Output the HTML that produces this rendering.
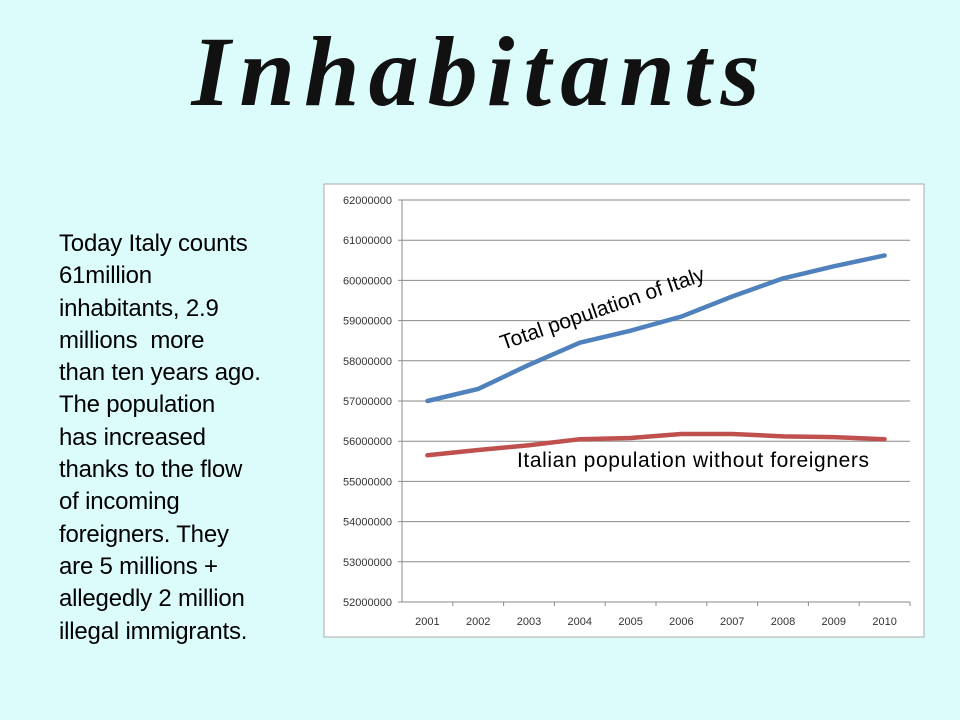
<!DOCTYPE html>
<html><head><meta charset="utf-8"><style>
body{margin:0;width:960px;height:720px;background:#dcfcfc;overflow:hidden;position:relative;font-family:"Liberation Sans",sans-serif}
#title{position:absolute;left:0;width:960px;top:14px;text-align:center;font-family:"Liberation Serif",serif;font-style:italic;font-weight:bold;font-size:100px;letter-spacing:9px;color:#111}
#body{position:absolute;left:59px;top:228px;width:260px;font-size:24px;letter-spacing:-0.2px;line-height:32.3px;color:#000;white-space:nowrap}
svg{position:absolute;left:0;top:0}
</style></head><body>
<div id="title">Inhabitants</div>
<div id="body">Today Italy counts<br>61million<br>inhabitants, 2.9<br>millions&nbsp; more<br>than ten years ago.<br>The population<br>has increased<br>thanks to the flow<br>of incoming<br>foreigners. They<br>are 5 millions +<br>allegedly 2 million<br>illegal immigrants.</div>
<svg width="960" height="720">
<rect x="324" y="184" width="600" height="453" fill="#fff" stroke="#aaa"/>
<g id="grid"></g><g id="lines"></g>
<text x="0" y="0" transform="translate(503,350) rotate(-19)" font-family="Liberation Sans" font-size="21" fill="#000">Total population of Italy</text>
<text x="517" y="467" font-family="Liberation Sans" font-size="21" letter-spacing="0.6" fill="#000">Italian population without foreigners</text>
</svg>
<script>
const years=["2001","2002","2003","2004","2005","2006","2007","2008","2009","2010"];
const yTicks=[52000000,53000000,54000000,55000000,56000000,57000000,58000000,59000000,60000000,61000000,62000000];
const totalPop=[57000000,57300000,57900000,58450000,58750000,59100000,59600000,60050000,60350000,60620000];
const italianPop=[55650000,55780000,55900000,56050000,56080000,56180000,56180000,56120000,56100000,56050000];
const L=402,R=910,T=200,B=602,NS="http://www.w3.org/2000/svg";
const yMin=52000000,yMax=62000000;
const y=v=>B-(v-yMin)/(yMax-yMin)*(B-T);
const bw=(R-L)/years.length;
const x=i=>L+bw*(i+0.5);
const g=document.getElementById('grid');
function mk(t,a,p){const e=document.createElementNS(NS,t);for(const k in a)e.setAttribute(k,a[k]);p.appendChild(e);return e;}
yTicks.forEach(v=>{
 const l=mk('line',{x1:L-4,x2:R,y1:y(v),y2:y(v),stroke:'#8a8a8a','stroke-width':1},g);
 
 
 const t=mk('text',{x:L-10,y:y(v)+4,'text-anchor':'end','font-size':11,fill:'#333','font-family':'Liberation Sans'},g);
 t.textContent=v;
 
 
});
mk('line',{x1:L,x2:L,y1:T,y2:B,stroke:'#8a8a8a'},g);
years.forEach((yr,i)=>{
 mk('line',{x1:L+bw*(i+1),x2:L+bw*(i+1),y1:B,y2:B+4,stroke:'#8a8a8a'},g);
 const t=mk('text',{x:x(i),y:B+23,'text-anchor':'middle','font-size':11,fill:'#333','font-family':'Liberation Sans'},g);
 t.textContent=yr;
 
 
});
const lg=document.getElementById('lines');
function series(d,c,n){
 const p=mk('polyline',{points:d.map((v,i)=>x(i)+','+y(v)).join(' '),fill:'none',stroke:c,'stroke-width':4.5,'stroke-linecap':'round','stroke-linejoin':'round'},lg);
 
 
}
series(italianPop,'#c0504d','italian-population-line');
series(totalPop,'#4f81bd','total-population-line');
</script>
</body></html>
